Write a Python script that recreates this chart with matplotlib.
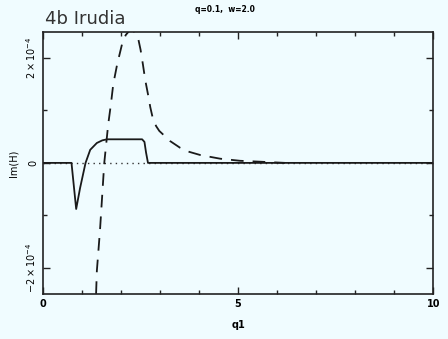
import numpy as np
import matplotlib
matplotlib.use("Agg")
import matplotlib.pyplot as plt
from matplotlib.ticker import MultipleLocator, FixedLocator

# Im(H) vs q1, values in units of 1e-4
q_solid = [0.0, 0.73, 0.85, 0.95, 1.09, 1.21, 1.38, 1.52, 1.64, 2.54, 2.60, 2.64, 2.69, 10.0]
im_solid = [0.0, 0.0, -0.88, -0.48, 0.0, 0.25, 0.38, 0.43, 0.45, 0.45, 0.40, 0.2, 0.0, 0.0]

q_dash = [1.36, 1.38, 1.46, 1.57, 1.67, 1.74, 1.80, 1.90, 2.03, 2.12, 2.20, 2.28,
          2.36, 2.44, 2.50, 2.56, 2.62, 2.69, 2.75, 2.82, 2.90, 2.98, 3.08,
          3.25, 3.51, 3.75, 4.03, 4.54, 5.05, 5.64, 6.2]
im_dash = [-2.5, -2.06, -1.29, 0.0, 0.73, 1.12, 1.5, 1.88, 2.28, 2.44, 2.51, 2.53,
           2.49, 2.37, 2.16, 1.88, 1.58, 1.31, 1.06, 0.83, 0.70, 0.61, 0.54,
           0.42, 0.29, 0.21, 0.15, 0.08, 0.04, 0.02, 0.0]

scale = 1e-4
bg = "#f0fcff"

fig = plt.figure(figsize=(4.48, 3.39), dpi=100, facecolor=bg)
ax = fig.add_axes([0.096, 0.133, 0.871, 0.773], facecolor=bg)

ax.axhline(0, color="#333333", linestyle=(0, (1, 3)), linewidth=1.0)
ax.plot(q_solid, np.array(im_solid) * scale, color="#1a1a1a", linewidth=1.3)
ax.plot(q_dash, np.array(im_dash) * scale, color="#1a1a1a", linewidth=1.3,
        linestyle=(0, (7, 5)))

ax.set_xlim(0, 10)
ax.set_ylim(-2.5e-4, 2.5e-4)
ax.xaxis.set_major_locator(FixedLocator([0, 5, 10]))
ax.xaxis.set_minor_locator(MultipleLocator(1))
ax.yaxis.set_major_locator(FixedLocator([-2e-4, 0, 2e-4]))
ax.yaxis.set_minor_locator(MultipleLocator(1e-4))
ax.set_xticklabels(["0", "5", "10"], fontsize=7, fontweight="bold")
ax.set_yticklabels([r"$-2\times10^{-4}$", "0", r"$2\times10^{-4}$"], fontsize=7,
                   rotation=90, va="center")
ax.tick_params(which="both", direction="in", top=True, right=True,
               color="#222222", width=1.0)
ax.tick_params(which="major", length=5)
ax.tick_params(which="minor", length=3)
for s in ax.spines.values():
    s.set_linewidth(1.2)
    s.set_color("#222222")

ax.set_xlabel("q1", fontsize=7, fontweight="bold", labelpad=8)
ax.set_ylabel("Im(H)", fontsize=7, labelpad=4)

fig.text(0.10, 0.93, "4b Irudia", fontsize=13, color="#333333")
fig.text(0.435, 0.965, "q=0.1,  w=2.0", fontsize=5.5, fontweight="bold")

fig.savefig("out.png", dpi=100, facecolor=bg)
